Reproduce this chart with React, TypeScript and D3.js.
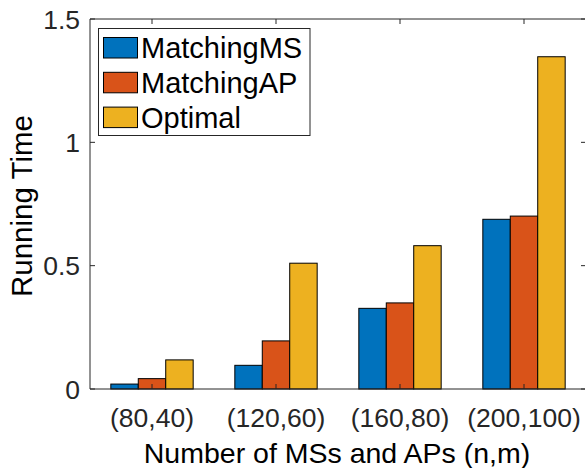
import * as d3 from 'd3';
import React from 'react';

const categories = ['(80,40)', '(120,60)', '(160,80)', '(200,100)'];
const seriesNames = ['MatchingMS', 'MatchingAP', 'Optimal'];
const matchingMS = [0.02, 0.096, 0.327, 0.688];
const matchingAP = [0.042, 0.195, 0.349, 0.701];
const optimal = [0.118, 0.51, 0.581, 1.347];
const yTicks = [0, 0.5, 1, 1.5];
const colors = ['#0072BD', '#D95319', '#EDB120'];

const W = 585;
const H = 468;
const left = 90, right = 586, top = 19, bottom = 389;
const font = "'Liberation Sans', Arial, Helvetica, sans-serif";
const axisColor = '#262626';

export default function App() {
  const allSeries = [matchingMS, matchingAP, optimal];

  const x = d3.scaleBand().domain(categories).range([left, right]).padding(0);
  const groupW = x.bandwidth() * 0.664;
  const xs = d3.scaleBand().domain(seriesNames).range([-groupW / 2, groupW / 2]).padding(0);
  const y = d3.scaleLinear().domain([0, 1.5]).range([bottom, top]);

  const tickLen = 5;

  return (
    <svg width={W} height={H} style={{ position: 'absolute', left: 0, top: 0 }}>
      <rect x={0} y={0} width={W} height={H} fill="#fff" />
      {/* bars */}
      {categories.map((c, i) => (
        <g key={c}>
          {allSeries.map((s, j) => {
            const cx = (x(c) as number) + x.bandwidth() / 2 + (xs(seriesNames[j]) as number);
            return (
              <rect
                key={j}
                x={cx}
                y={y(s[i])}
                width={xs.bandwidth()}
                height={y(0) - y(s[i])}
                fill={colors[j]}
                stroke="#000"
                strokeWidth={1}
              />
            );
          })}
        </g>
      ))}
      {/* axes box */}
      <g stroke={axisColor} strokeWidth={1} fill="none">
        <line x1={left} y1={bottom} x2={right} y2={bottom} />
        <line x1={left} y1={top} x2={right} y2={top} />
        <line x1={left} y1={top} x2={left} y2={bottom} />
        <line x1={right} y1={top} x2={right} y2={bottom} />
        {yTicks.map((t) => (
          <g key={t}>
            <line x1={left} x2={left + tickLen} y1={y(t)} y2={y(t)} />
            <line x1={right} x2={right - tickLen} y1={y(t)} y2={y(t)} />
          </g>
        ))}
        {categories.map((c) => {
          const cx = (x(c) as number) + x.bandwidth() / 2;
          return (
            <g key={c}>
              <line x1={cx} x2={cx} y1={bottom} y2={bottom - tickLen} />
              <line x1={cx} x2={cx} y1={top} y2={top + tickLen} />
            </g>
          );
        })}
      </g>
      {/* tick labels */}
      <g fontFamily={font} fontSize={26.5} fill={axisColor}>
        {yTicks.map((t) => (
          <text key={t} x={left - 10} y={y(t)} dy="0.36em" textAnchor="end">
            {d3.format('')(t)}
          </text>
        ))}
        {categories.map((c) => (
          <text key={c} x={(x(c) as number) + x.bandwidth() / 2} y={427} textAnchor="middle">
            {c}
          </text>
        ))}
      </g>
      {/* axis labels */}
      <text x={337} y={463} textAnchor="middle" fontFamily={font} fontSize={28.5} fill="#000">
        Number of MSs and APs (n,m)
      </text>
      <text
        transform={`translate(32, ${(top + bottom) / 2 + 2}) rotate(-90)`}
        textAnchor="middle"
        fontFamily={font}
        fontSize={29.5}
        fill="#000"
      >
        Running Time
      </text>
      {/* legend */}
      <g>
        <rect x={98.5} y={28.5} width={211.5} height={107} fill="#fff" stroke={axisColor} strokeWidth={1} />
        {seriesNames.map((n, j) => (
          <g key={n} transform={`translate(0, ${37 + j * 34.8})`}>
            <rect x={103.5} y={0.5} width={34} height={20.5} fill={colors[j]} stroke="#000" strokeWidth={1} />
            <text x={141} y={11} dy="0.36em" fontFamily={font} fontSize={29} fill="#000">
              {n}
            </text>
          </g>
        ))}
      </g>
    </svg>
  );
}
